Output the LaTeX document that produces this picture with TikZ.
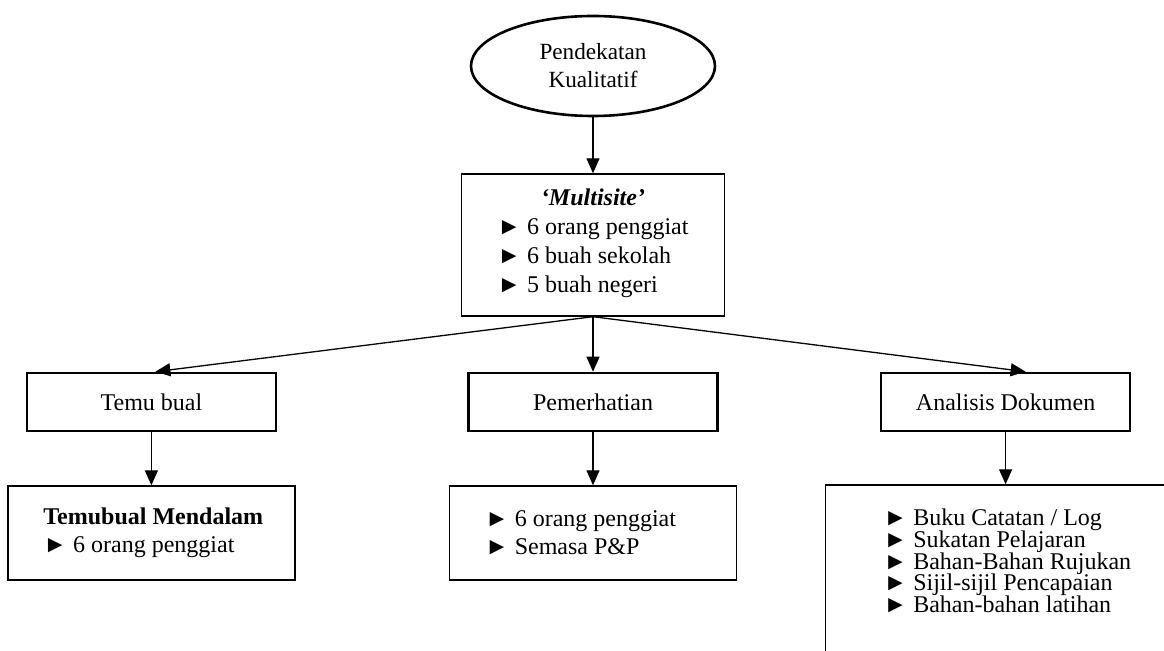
\documentclass[tikz,border=0pt]{standalone}
\usepackage{fontspec}
\setmainfont{Liberation Serif}
\usetikzlibrary{positioning}
\usetikzlibrary{shapes.geometric}
\usetikzlibrary{calc}
\usetikzlibrary{arrows.meta}
\newcommand{\arrowbullet}{►\ }
\tikzset{
  every node/.style={font=\fontsize{12}{14.5}\selectfont},
  oval/.style={draw, ellipse, line width=1.3pt, minimum width=122pt, minimum height=50pt, inner sep=0pt, align=center,
    font=\fontsize{11.6}{14}\selectfont},
  sitebox/.style={draw, line width=0.7pt, minimum width=131.5pt, minimum height=71pt, align=center},
  methodbox/.style={draw, line width=1.3pt, minimum width=124.5pt, minimum height=29pt},
  listbox/.style={draw, line width=0.7pt, text width=108pt, inner xsep=17.75pt, minimum height=47pt, align=flush left,
    font=\fontsize{12}{14}\selectfont},
  doclist/.style={draw, line width=0.7pt, text width=130pt, inner xsep=29pt, inner ysep=12pt, align=flush left,
    text depth=80pt, font=\fontsize{12}{10.85}\selectfont, execute at begin node={\lineskiplimit=-5pt\relax}},
  arr/.style={line width=0.65pt, -{Triangle[length=7.5pt,width=6.5pt]}},
}

\begin{document}
\begin{tikzpicture}
    \useasboundingbox (0,0) rectangle (582pt,-325.5pt);
    \clip (0,0) rectangle (582pt,-325.5pt);

    \node[oval] (kual) at (296.5pt,-33pt) {Pendekatan\\Kualitatif};
    \node[sitebox] (multi) [below=28pt of kual] {\textbf{\textit{‘Multisite’}}\\
        \begin{tabular}[t]{@{}l@{}}\arrowbullet 6 orang penggiat\\ \arrowbullet 6 buah sekolah\\ \arrowbullet 5 buah negeri\end{tabular}};

    \node[methodbox] (pem) [below=27.5pt of multi] {Pemerhatian};
    \node[methodbox] (temu) [left=95pt of pem] {Temu bual};
    \node[methodbox] (dok) [right=80.5pt of pem] {Analisis Dokumen};

    \node[listbox] (temulist) [below=26.5pt of temu] {\mbox{\textbf{Temubual Mendalam}}\\ \arrowbullet 6 orang penggiat};
    \node[listbox] (pemlist) [below=26.5pt of pem] {\arrowbullet 6 orang penggiat\\ \arrowbullet Semasa P\&P};
    \node[doclist, anchor=north west] (doklist) at ($(dok.south west)+(-27.5pt,-26pt)$)
        {\arrowbullet Buku Catatan / Log\\ \arrowbullet Sukatan Pelajaran\\ \arrowbullet Bahan-Bahan Rujukan\\ \arrowbullet Sijil-sijil Pencapaian\\ \arrowbullet Bahan-bahan latihan};

    \draw[arr] (kual) -- (multi);
    \draw[arr] (multi.south) -- ([xshift=2pt]temu.north);
    \draw[arr] (multi) -- (pem);
    \draw[arr] (multi.south) -- ([xshift=10pt]dok.north);
    \draw[arr] (temu) -- (temulist);
    \draw[arr] (pem) -- (pemlist);
    \draw[arr] (dok.south) -- (dok.south |- doklist.north);
\end{tikzpicture}
\end{document}
